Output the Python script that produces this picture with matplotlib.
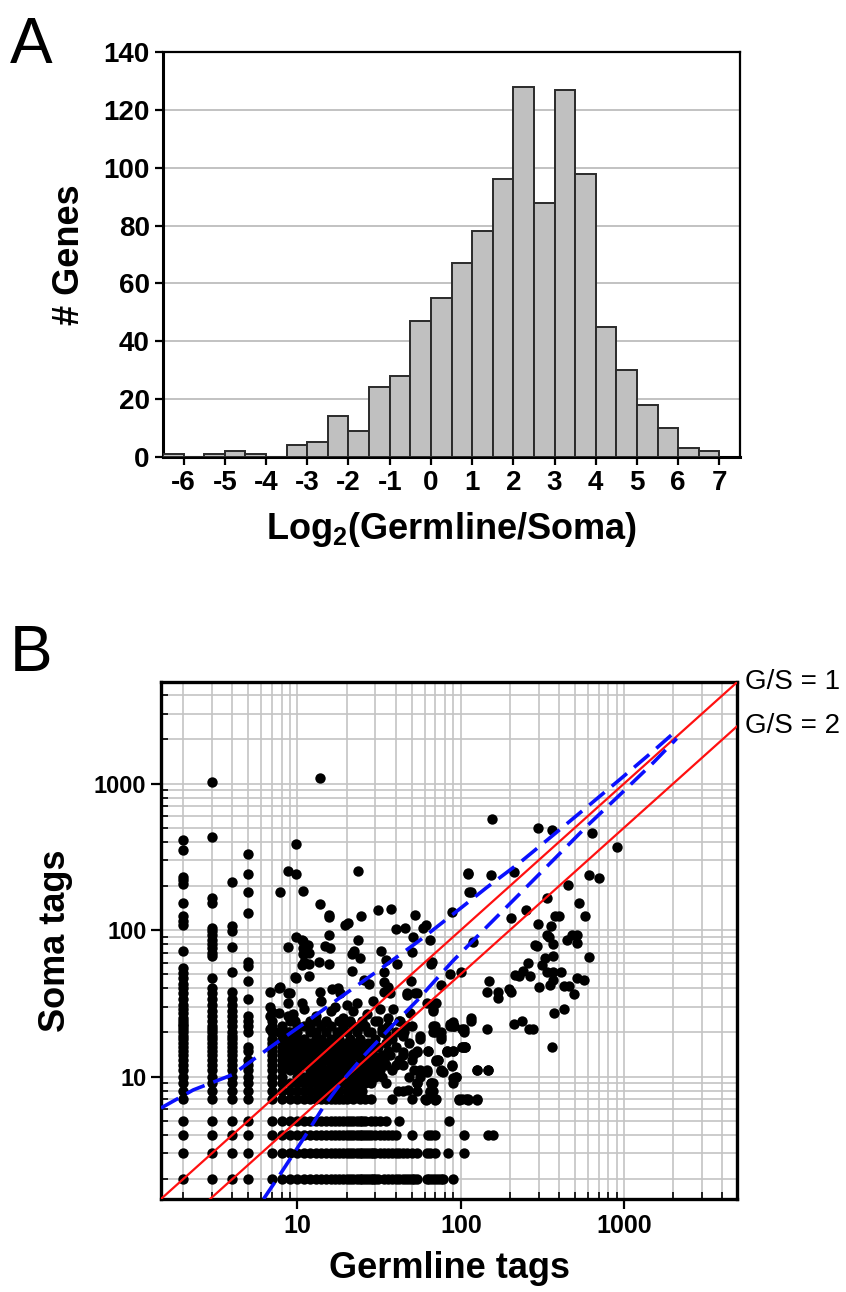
import numpy as np
import matplotlib
matplotlib.use("Agg")
import matplotlib.pyplot as plt
from matplotlib.ticker import LogLocator, NullFormatter, FixedLocator

plt.rcParams["font.family"] = ["Liberation Sans", "DejaVu Sans"]
plt.rcParams["mathtext.fontset"] = "custom"
plt.rcParams["mathtext.rm"] = "Liberation Sans:bold"
plt.rcParams["mathtext.bf"] = "Liberation Sans:bold"

# ---- panel A: histogram of log2(germline/soma) ----
bin_left = [-6.5, -6.0, -5.5, -5.0, -4.5, -4.0, -3.5, -3.0, -2.5, -2.0, -1.5, -1.0,
            -0.5, 0.0, 0.5, 1.0, 1.5, 2.0, 2.5, 3.0, 3.5, 4.0, 4.5, 5.0, 5.5, 6.0, 6.5]
gene_counts = [1, 0, 1, 2, 1, 0, 4, 5, 14, 9, 24, 28,
               47, 55, 67, 78, 96, 128, 88, 127, 98, 45, 30, 18, 10, 3, 2]
hist_ticks = [-6, -5, -4, -3, -2, -1, 0, 1, 2, 3, 4, 5, 6, 7]

# ---- panel B: germline vs soma tag counts ----
# columns at small germline counts (x fixed, soma values listed)
col_x = [2, 3, 4, 5]
col_soma = [
    [2, 3, 4, 5, 7, 8, 9, 10, 11, 12, 13, 14, 15, 16, 17, 18, 19, 20, 21, 22, 23, 24, 25,
     27, 29, 31, 34, 37, 40, 43, 47, 51, 55, 72, 108, 115, 125, 153, 205, 218, 232, 351, 413],
    [2, 3, 4, 5, 7, 8, 9, 10, 11, 12, 13, 14, 15, 16, 17, 18, 19, 20, 21, 22, 24, 26, 28,
     31, 34, 37, 40, 47, 66, 70, 75, 80, 86, 92, 98, 104, 153, 166, 430, 1030],
    [2, 3, 4, 5, 7, 8, 9, 10, 11, 12, 13, 14, 15, 16, 17, 18, 19, 20, 22, 24, 26, 28, 31,
     34, 38, 52, 77, 98, 107, 214],
    [2, 3, 4, 5, 7, 8, 9, 10, 11, 12, 13, 15, 16, 20, 22, 24, 26, 34, 45, 57, 61, 131, 182,
     240, 330],
]
# rows at small soma counts (y fixed, germline values listed)
row_y = [2, 3, 4, 5, 7, 8, 9, 10, 11, 12, 13, 14, 15, 16, 17, 18, 20, 22, 24]
row_germ = [
    [7, 8, 9, 10, 11, 12, 13, 14, 15, 16, 17, 18, 19, 20, 21, 22, 23, 24, 25, 26, 27, 28,
     29, 30, 31, 34, 36, 38, 40, 42, 44, 46, 48, 50, 52, 54, 62, 64, 67, 70, 73, 76, 78, 90],
    [7, 8, 9, 10, 11, 12, 13, 14, 15, 16, 17, 18, 19, 20, 21, 22, 23, 24, 25, 26, 27, 28,
     29, 30, 32, 34, 36, 38, 40, 42, 44, 47, 50, 54, 62, 65, 70, 84, 105],
    [7, 8, 9, 10, 11, 12, 13, 14, 15, 16, 17, 18, 19, 20, 21, 22, 23, 24, 25, 26, 27, 28,
     30, 32, 34, 36, 38, 40, 50, 63, 66, 70, 104, 147, 157],
    [7, 8, 9, 10, 11, 12, 13, 14, 15, 16, 17, 18, 19, 20, 21, 22, 23, 24, 25, 26, 28, 30,
     32, 35, 42, 85],
    [7, 8, 9, 10, 11, 12, 13, 14, 15, 16, 17, 18, 19, 20, 22, 24, 26, 28, 38, 50, 60, 62,
     71, 97, 102, 108, 110, 126],
    [7, 8, 9, 10, 11, 12, 13, 14, 15, 16, 17, 18, 20, 21, 23, 25, 41, 44, 54, 65, 68],
    [7, 8, 9, 10, 11, 12, 13, 14, 15, 16, 17, 18, 19, 20, 22, 24, 26, 28, 35, 54, 66, 68, 90],
    [7, 8, 10, 11, 12, 13, 14, 15, 16, 17, 18, 20, 22, 24, 27, 30, 33, 48, 56, 94],
    [7, 8, 9, 10, 12, 13, 14, 15, 16, 17, 19, 21, 23, 26, 29, 32, 38, 52, 56, 62, 76, 125, 146],
    [7, 8, 9, 10, 11, 12, 13, 14, 16, 18, 20, 22, 25, 28, 31, 35, 40, 44, 88],
    [7, 8, 9, 10, 11, 12, 13, 14, 15, 17, 19, 21, 24, 27, 30, 34, 42, 50, 71, 73],
    [7, 8, 9, 10, 11, 13, 14, 15, 16, 18, 20, 23, 26, 29, 33, 37, 44, 51],
    [7, 8, 9, 10, 11, 12, 13, 15, 16, 18, 21, 24, 28, 36, 54, 63, 82, 90],
    [7, 8, 9, 11, 12, 13, 14, 15, 17, 19, 22, 25, 31, 40, 102, 106],
    [7, 8, 9, 10, 12, 13, 15, 17, 20, 23, 27, 35, 48],
    [7, 8, 9, 10, 11, 13, 14, 16, 18, 21, 24, 30, 38, 56, 76],
    [7, 9, 10, 12, 13, 15, 18, 20, 23, 27, 33, 45, 68, 70, 104],
    [7, 8, 10, 11, 14, 16, 19, 22, 26, 36, 50, 86, 91, 88],
    [7, 9, 12, 13, 15, 18, 21, 25, 31, 42, 115],
]
# remaining scattered genes (germline, soma)
other_germ = [
    13.8, 9.8, 8.8, 9.8, 7.8, 10.8, 23.4, 13.8, 15.6, 15.6, 19.6, 20.4, 24.4, 31.3, 37.4,
    52.5, 40, 45.3, 59, 61, 9.8, 8.8, 10.6, 10.9, 11.8, 15.7, 14.8, 15.8, 10.9, 10.6, 11.8,
    13.6, 15.7, 9.8, 11.8, 21.5, 22.3, 24.2, 23.4, 21.5, 32.4, 35, 40.6, 34, 50, 51.3, 65,
    67, 88, 110, 113, 86, 101, 76, 49.4, 25.7, 27.6, 34, 36, 13.8, 16.3, 17.6, 34, 52.5,
    46.7, 8.8, 7.8, 6.8, 6.8, 6.8, 6.8, 7.7, 7.7, 7.7, 8.8, 8.8, 8.8, 9.7, 9.7, 10.8, 10.8,
    10.8, 11.6, 9, 10.7, 18.2, 23, 26.6, 32, 37, 47, 54, 62, 68, 90, 104, 104, 76, 68, 56,
    54, 38.5, 42.5, 49, 35, 28, 21, 17.5, 15, 12, 9.4, 8.2, 7, 44, 51, 82, 71, 78, 62, 54,
    90, 47.6, 11, 13, 16, 19, 22, 25, 28, 30, 33, 36, 40, 44, 46, 29, 20, 14, 17,
    156, 296, 362, 638, 906, 111, 153, 211, 612, 703, 115, 455, 336, 250, 530, 203, 380,
    400, 580, 298, 356, 119, 284, 292, 336, 346, 368, 446, 479, 515, 515, 608, 257, 314,
    330, 368, 216, 226, 242, 266, 336, 368, 410, 368, 352, 302, 430, 460, 490, 515, 565,
    148, 145, 169, 168, 196, 204, 373, 430, 115, 86, 91, 102, 145, 211, 236, 260, 278, 362,
    102, 82, 90, 125, 146, 97, 110, 126, 94, 88, 66, 71, 68, 70, 76, 88, 106, 63, 73, 76,
    66, 65, 61, 70, 56,
]
other_soma = [
    1090, 388, 254, 243, 183, 185, 254, 150, 127, 122, 109, 112, 124, 138, 139,
    127, 102, 103, 103, 109, 90, 77, 85, 77, 70, 92, 78, 75, 61, 57.7, 59,
    61, 58.5, 47.3, 48.6, 69, 72, 64, 86, 52.5, 72, 62, 58.5, 52, 71, 89, 86,
    61, 133, 247, 183, 50, 52, 42, 45, 45.5, 42.5, 44, 41, 38, 39.3, 40, 38, 37,
    37, 37, 41, 38, 30, 26, 21, 40, 27, 20, 32, 26, 20, 48, 24, 84, 75,
    69, 79, 37, 32, 37, 32, 26.8, 29, 37, 36, 37, 32, 29, 23.5, 21, 15.8, 20, 22, 19,
    14.8, 29, 24, 27, 19.5, 15.4, 23.5, 20, 23.5, 22, 26.8, 19, 27.5, 14.6, 14.2, 14.8, 12.7, 10.8, 10.8, 9.1,
    9.8, 8.1, 29, 26, 28, 25, 28, 22, 20, 24, 21, 25, 20, 19, 22, 33, 31, 33, 30,
    570, 494, 480, 459, 367, 243, 237, 250, 237, 228, 182, 202, 166, 137, 153, 121, 124,
    125, 124, 110, 106, 83, 79, 78, 93, 90, 80, 86, 93, 93, 82, 65, 60, 58,
    64, 67, 49, 48.5, 52.5, 48.5, 52, 52, 52, 45.5, 42, 41, 41.5, 41.5, 36.5, 46.7, 45.5,
    45, 37.5, 37.5, 34.4, 39.4, 37.8, 27, 29, 25, 23, 22, 21, 21, 23, 24, 21, 21, 16,
    16, 15, 15, 11, 11, 6.9, 6.9, 6.9, 10, 11.8, 59, 32, 28, 22, 19, 22.8, 16, 15, 13, 10.9,
    9.1, 7.9, 6.9, 6.9, 10.9,
]

# dashed significance curves
upper_germ = [1.46, 2.3, 4.0, 7.0, 12, 18.5, 32, 56, 99, 144, 231, 368, 600, 955, 1520, 2000]
upper_soma = [6.1, 8.1, 10.3, 16.2, 24.7, 35, 54, 85, 140, 195, 290, 445, 700, 1080, 1680, 2200]
lower_germ = [6.2, 7.5, 10.9, 14.4, 19.1, 25.4, 37, 54, 68, 90, 144, 231, 368, 600, 955, 1520, 2100]
lower_soma = [1.46, 2.0, 3.78, 6.2, 9.5, 13.8, 21.5, 33, 44, 62, 105, 178, 300, 520, 850, 1400, 2030]

gs_ratios = [1, 2]
tag_lim = (1.46, 4920)

# assemble scatter arrays
gx, gy = [], []
for x, ys in zip(col_x, col_soma):
    gx += [x] * len(ys)
    gy += ys
for y, xs in zip(row_y, row_germ):
    gx += xs
    gy += [y] * len(xs)
gx += other_germ
gy += other_soma

fig = plt.figure(figsize=(8.46, 12.92), dpi=100)

# ---------------- A ----------------
ax1 = fig.add_axes([0.1927, 0.6465, 0.682, 0.313])
ax1.bar(bin_left, gene_counts, width=0.5, align="edge", color="#c0c0c0",
        edgecolor="#2a2a2a", linewidth=1.4, zorder=3)
ax1.set_xlim(-6.5, 7.5)
ax1.set_ylim(0, 140)
ax1.set_yticks(range(0, 141, 20))
ax1.set_xticks(hist_ticks)
ax1.set_xticklabels([str(t) for t in hist_ticks])
ax1.yaxis.grid(True, color="#bdbdbd", linewidth=1.3)
ax1.set_axisbelow(True)
for s in ax1.spines.values():
    s.set_linewidth(1.6)
ax1.spines["left"].set_linewidth(2.2)
ax1.spines["bottom"].set_linewidth(2.2)
ax1.tick_params(direction="out", length=6, width=1.6, labelsize=20)
for lab in ax1.get_xticklabels() + ax1.get_yticklabels():
    lab.set_fontweight("bold")
ax1.set_ylabel("# Genes", fontsize=26, fontweight="bold", labelpad=12)
ax1.set_xlabel(r"Log$_{\mathbf{2}}$(Germline/Soma)", fontsize=26, fontweight="bold", labelpad=10)

# ---------------- B ----------------
ax2 = fig.add_axes([0.1903, 0.072, 0.681, 0.400])
ax2.set_xscale("log")
ax2.set_yscale("log")
ax2.set_xlim(*tag_lim)
ax2.set_ylim(*tag_lim)

ax2.scatter(gx, gy, s=56, color="black", linewidths=0, zorder=3, clip_on=True)

for r in gs_ratios:
    lx = np.array(tag_lim)
    ax2.plot(lx, lx / r, color="#ff1010", linewidth=1.6, zorder=4)
    ax2.annotate("G/S = %d" % r, xy=(tag_lim[1], tag_lim[1] / r), xycoords="data",
                 xytext=(6, 0), textcoords="offset points", ha="left", va="center",
                 fontsize=20, annotation_clip=False)

ax2.plot(upper_germ, upper_soma, color="#0a10ff", linewidth=2.6, dashes=(5.5, 2.6),
         zorder=5)
ax2.plot(lower_germ, lower_soma, color="#0a10ff", linewidth=2.6, dashes=(5.5, 2.6),
         zorder=5)

ax2.xaxis.set_major_locator(FixedLocator([10, 100, 1000]))
ax2.yaxis.set_major_locator(FixedLocator([10, 100, 1000]))
ax2.set_xticklabels(["10", "100", "1000"])
ax2.set_yticklabels(["10", "100", "1000"])
ax2.xaxis.set_minor_locator(LogLocator(base=10, subs=np.arange(2, 10), numticks=20))
ax2.yaxis.set_minor_locator(LogLocator(base=10, subs=np.arange(2, 10), numticks=20))
ax2.xaxis.set_minor_formatter(NullFormatter())
ax2.yaxis.set_minor_formatter(NullFormatter())
ax2.grid(True, which="both", color="#c4c4c4", linewidth=1.2, zorder=0)
ax2.set_axisbelow(True)
ax2.tick_params(which="major", direction="out", length=7, width=1.6, labelsize=18)
ax2.tick_params(which="minor", direction="in", length=5, width=1.2)
for lab in ax2.get_xticklabels():
    lab.set_fontweight("bold")
for lab in ax2.get_yticklabels():
    lab.set_fontweight("bold")
    lab.set_family(["Liberation Sans Narrow", "Liberation Sans"])
    lab.set_fontsize(17)
for s in ax2.spines.values():
    s.set_linewidth(2.4)
ax2.set_xlabel("Germline tags", fontsize=26, fontweight="bold", labelpad=10)
ax2.set_ylabel("Soma tags", fontsize=26, fontweight="bold", labelpad=15)

fig.text(0.012, 0.951, "A", fontsize=46, ha="left", va="baseline")
fig.text(0.012, 0.481, "B", fontsize=46, ha="left", va="baseline")

fig.savefig("out.png", dpi=100)
